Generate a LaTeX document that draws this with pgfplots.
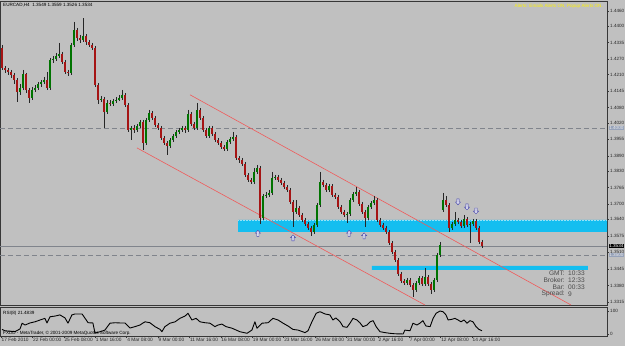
\documentclass[border=0pt]{standalone}
\usepackage{pgfplots}
\pgfplotsset{compat=1.18}
\usepackage{pgfplotstable}
\usepackage{fontspec}
\setmainfont{Liberation Sans}
\definecolor{bg}{RGB}{192,192,192}
\definecolor{bull}{RGB}{0,115,0}
\definecolor{bear}{RGB}{165,20,20}
\definecolor{zone}{RGB}{20,190,240}
\definecolor{chan}{RGB}{240,90,90}
\definecolor{frm}{RGB}{55,55,55}
\definecolor{lvl}{RGB}{128,132,140}
\definecolor{arrowc}{RGB}{70,70,170}
\definecolor{lvlbox}{RGB}{150,162,185}
\definecolor{infotext}{RGB}{75,75,75}

\pgfdeclareplotmark{uparr}{%
  \pgfpathmoveto{\pgfqpoint{0pt}{3pt}}%
  \pgfpathlineto{\pgfqpoint{2.6pt}{0.2pt}}%
  \pgfpathlineto{\pgfqpoint{1.1pt}{0.2pt}}%
  \pgfpathlineto{\pgfqpoint{1.1pt}{-3pt}}%
  \pgfpathlineto{\pgfqpoint{-1.1pt}{-3pt}}%
  \pgfpathlineto{\pgfqpoint{-1.1pt}{0.2pt}}%
  \pgfpathlineto{\pgfqpoint{-2.6pt}{0.2pt}}%
  \pgfpathclose
  \pgfusepathqfillstroke}
\pgfdeclareplotmark{dnarr}{%
  \pgfpathmoveto{\pgfqpoint{0pt}{-3pt}}%
  \pgfpathlineto{\pgfqpoint{2.6pt}{-0.2pt}}%
  \pgfpathlineto{\pgfqpoint{1.1pt}{-0.2pt}}%
  \pgfpathlineto{\pgfqpoint{1.1pt}{3pt}}%
  \pgfpathlineto{\pgfqpoint{-1.1pt}{3pt}}%
  \pgfpathlineto{\pgfqpoint{-1.1pt}{-0.2pt}}%
  \pgfpathlineto{\pgfqpoint{-2.6pt}{-0.2pt}}%
  \pgfpathclose
  \pgfusepathqfillstroke}

\newcommand{\ft}{\fontsize{4.6}{5}\selectfont}
\newcommand{\fdate}{\fontsize{4.8}{5}\selectfont}
\newcommand{\finfo}{\fontsize{6.6}{7}\selectfont}

% EURCAD H4 candles: i open high low close
\pgfplotstableread{
i o h l c
0 1.4314 1.4326 1.4228 1.4236
1 1.4236 1.4244 1.4216 1.4228
2 1.4228 1.4236 1.4208 1.4220
3 1.4220 1.4228 1.4196 1.4208
4 1.4208 1.4216 1.4173 1.4189
5 1.4189 1.4196 1.4102 1.4141
6 1.4141 1.4173 1.4130 1.4157
7 1.4157 1.4228 1.4149 1.4212
8 1.4212 1.4216 1.4137 1.4149
9 1.4149 1.4157 1.4098 1.4118
10 1.4118 1.4161 1.4110 1.4149
11 1.4149 1.4169 1.4141 1.4157
12 1.4157 1.4181 1.4149 1.4173
13 1.4173 1.4189 1.4161 1.4181
14 1.4181 1.4200 1.4173 1.4189
15 1.4189 1.4220 1.4149 1.4157
16 1.4157 1.4275 1.4149 1.4267
17 1.4267 1.4283 1.4255 1.4271
18 1.4271 1.4295 1.4263 1.4283
19 1.4283 1.4334 1.4275 1.4291
20 1.4291 1.4299 1.4251 1.4259
21 1.4259 1.4267 1.4212 1.4220
22 1.4220 1.4228 1.4204 1.4216
23 1.4216 1.4334 1.4208 1.4326
24 1.4326 1.4417 1.4318 1.4385
25 1.4385 1.4393 1.4342 1.4354
26 1.4354 1.4366 1.4334 1.4346
27 1.4346 1.4432 1.4338 1.4362
28 1.4362 1.4370 1.4326 1.4338
29 1.4338 1.4346 1.4318 1.4326
30 1.4326 1.4334 1.4307 1.4314
31 1.4314 1.4322 1.4161 1.4169
32 1.4169 1.4177 1.4094 1.4110
33 1.4110 1.4126 1.4102 1.4114
34 1.4114 1.4122 1.4000 1.4063
35 1.4063 1.4110 1.4055 1.4098
36 1.4098 1.4110 1.4086 1.4094
37 1.4094 1.4114 1.4086 1.4106
38 1.4106 1.4122 1.4098 1.4110
39 1.4110 1.4130 1.4106 1.4118
40 1.4118 1.4149 1.4110 1.4130
41 1.4130 1.4137 1.4082 1.4090
42 1.4090 1.4098 1.3984 1.3992
43 1.3992 1.4008 1.3952 1.4000
44 1.4000 1.4012 1.3980 1.3992
45 1.3992 1.4015 1.3984 1.4008
46 1.4008 1.4031 1.4000 1.4023
47 1.4023 1.4031 1.3913 1.3941
48 1.3941 1.4039 1.3933 1.4031
49 1.4031 1.4071 1.4023 1.4059
50 1.4059 1.4067 1.4031 1.4039
51 1.4039 1.4047 1.4004 1.4012
52 1.4012 1.4019 1.3992 1.4000
53 1.4000 1.4008 1.3952 1.3960
54 1.3960 1.3968 1.3933 1.3941
55 1.3941 1.3948 1.3893 1.3929
56 1.3929 1.3960 1.3921 1.3952
57 1.3952 1.3976 1.3945 1.3968
58 1.3968 1.3992 1.3960 1.3984
59 1.3984 1.4000 1.3976 1.3992
60 1.3992 1.4008 1.3984 1.4000
61 1.4000 1.4008 1.3980 1.3992
62 1.3992 1.4071 1.3984 1.4055
63 1.4055 1.4063 1.4008 1.4015
64 1.4015 1.4023 1.3992 1.4000
65 1.4000 1.4098 1.3992 1.4071
66 1.4071 1.4078 1.4031 1.4039
67 1.4039 1.4047 1.3984 1.3992
68 1.3992 1.4000 1.3960 1.3968
69 1.3968 1.4008 1.3960 1.4000
70 1.4000 1.4008 1.3968 1.3976
71 1.3976 1.3984 1.3945 1.3952
72 1.3952 1.3960 1.3933 1.3941
73 1.3941 1.3948 1.3917 1.3925
74 1.3925 1.3933 1.3909 1.3917
75 1.3917 1.3952 1.3909 1.3945
76 1.3945 1.3964 1.3937 1.3956
77 1.3956 1.3984 1.3948 1.3964
78 1.3964 1.3972 1.3874 1.3882
79 1.3882 1.3889 1.3862 1.3874
80 1.3874 1.3882 1.3850 1.3858
81 1.3858 1.3866 1.3807 1.3815
82 1.3815 1.3823 1.3787 1.3795
83 1.3795 1.3803 1.3779 1.3787
84 1.3787 1.3842 1.3779 1.3827
85 1.3827 1.3854 1.3819 1.3842
86 1.3842 1.3850 1.3622 1.3646
87 1.3646 1.3740 1.3638 1.3732
88 1.3732 1.3748 1.3724 1.3736
89 1.3736 1.3756 1.3728 1.3744
90 1.3744 1.3827 1.3736 1.3803
91 1.3803 1.3815 1.3795 1.3807
92 1.3807 1.3815 1.3787 1.3795
93 1.3795 1.3803 1.3775 1.3783
94 1.3783 1.3791 1.3760 1.3768
95 1.3768 1.3775 1.3748 1.3756
96 1.3756 1.3764 1.3701 1.3709
97 1.3709 1.3716 1.3610 1.3669
98 1.3669 1.3716 1.3661 1.3685
99 1.3685 1.3693 1.3650 1.3657
100 1.3657 1.3665 1.3630 1.3638
101 1.3638 1.3646 1.3614 1.3622
102 1.3622 1.3630 1.3598 1.3606
103 1.3606 1.3614 1.3575 1.3591
104 1.3591 1.3626 1.3583 1.3618
105 1.3618 1.3705 1.3610 1.3697
106 1.3697 1.3827 1.3689 1.3787
107 1.3787 1.3795 1.3768 1.3775
108 1.3775 1.3783 1.3748 1.3756
109 1.3756 1.3779 1.3748 1.3771
110 1.3771 1.3779 1.3728 1.3736
111 1.3736 1.3744 1.3720 1.3728
112 1.3728 1.3736 1.3681 1.3689
113 1.3689 1.3697 1.3661 1.3669
114 1.3669 1.3677 1.3650 1.3657
115 1.3657 1.3669 1.3626 1.3661
116 1.3661 1.3724 1.3653 1.3716
117 1.3716 1.3748 1.3709 1.3740
118 1.3740 1.3768 1.3732 1.3748
119 1.3748 1.3756 1.3693 1.3701
120 1.3701 1.3709 1.3661 1.3669
121 1.3669 1.3677 1.3610 1.3646
122 1.3646 1.3697 1.3638 1.3689
123 1.3689 1.3712 1.3681 1.3705
124 1.3705 1.3732 1.3697 1.3716
125 1.3716 1.3724 1.3630 1.3638
126 1.3638 1.3646 1.3610 1.3618
127 1.3618 1.3626 1.3598 1.3606
128 1.3606 1.3614 1.3583 1.3591
129 1.3591 1.3598 1.3539 1.3547
130 1.3547 1.3555 1.3504 1.3512
131 1.3512 1.3520 1.3472 1.3480
132 1.3480 1.3488 1.3417 1.3425
133 1.3425 1.3433 1.3390 1.3398
134 1.3398 1.3405 1.3382 1.3390
135 1.3390 1.3410 1.3382 1.3402
136 1.3402 1.3410 1.3374 1.3382
137 1.3382 1.3390 1.3335 1.3362
138 1.3362 1.3398 1.3354 1.3390
139 1.3390 1.3417 1.3382 1.3410
140 1.3410 1.3417 1.3378 1.3386
141 1.3386 1.3449 1.3378 1.3413
142 1.3413 1.3421 1.3378 1.3386
143 1.3386 1.3394 1.3347 1.3362
144 1.3362 1.3410 1.3354 1.3402
145 1.3402 1.3508 1.3394 1.3500
146 1.3500 1.3551 1.3492 1.3539
147 1.3677 1.3744 1.3669 1.3716
148 1.3716 1.3732 1.3689 1.3697
149 1.3697 1.3705 1.3591 1.3606
150 1.3606 1.3630 1.3598 1.3622
151 1.3622 1.3669 1.3614 1.3638
152 1.3638 1.3646 1.3622 1.3630
153 1.3630 1.3638 1.3606 1.3614
154 1.3614 1.3657 1.3606 1.3642
155 1.3642 1.3650 1.3610 1.3618
156 1.3618 1.3630 1.3547 1.3622
157 1.3622 1.3642 1.3614 1.3634
158 1.3634 1.3642 1.3598 1.3606
159 1.3606 1.3614 1.3543 1.3549
160 1.3549 1.3559 1.3526 1.3534
}\candles

\begin{document}
\begin{tikzpicture}
\useasboundingbox (0pt,0pt) rectangle (625pt,346pt);
\fill[bg] (0pt,0pt) rectangle (625pt,346pt);

% ---------- main price panel ----------
\begin{axis}[
  at={(0pt,41pt)}, anchor=south west,
  scale only axis, width=607pt, height=304pt,
  xmin=-0.667, xmax=201.667,
  ymin=1.3303, ymax=1.4499,
  clip mode=individual,
  axis line style={draw=frm, line width=0.8pt},
  xtick=\empty,
  ytick={1.3315,1.3380,1.3445,1.3510,1.3575,1.3640,1.3700,1.3765,1.3830,1.3890,1.3955,1.4020,1.4080,1.4145,1.4210,1.4270,1.4335,1.4400,1.4460},
  yticklabels={1.3315,1.3380,1.3445,1.3510,1.3575,1.3640,1.3700,1.3765,1.3830,1.3890,1.3955,1.4020,1.4080,1.4145,1.4210,1.4270,1.4335,1.4400,1.4460},
  ytick pos=right, yticklabel pos=right,
  tick align=outside, major tick length=2pt,
  tick style={draw=frm, line width=0.5pt},
  yticklabel style={font=\ft, text=black!85, inner sep=0.5pt, anchor=west, xshift=0.5pt},
]
% support / resistance zones
\addplot[fill=zone, draw=none, forget plot] coordinates {(78.67,1.3591) (201.667,1.3591) (201.667,1.3638) (78.67,1.3638) (78.67,1.3591)};
\addplot[draw=white!55!zone, line width=0.5pt, densely dotted, forget plot] coordinates {(78.67,1.3638) (201.667,1.3638)};
\addplot[fill=zone, draw=none, forget plot] coordinates {(123.33,1.3441) (195.33,1.3441) (195.33,1.3457) (123.33,1.3457) (123.33,1.3441)};
% horizontal levels
\addplot[draw=lvl, line width=0.6pt, dash pattern=on 5pt off 3pt, forget plot] coordinates {(-0.667,1.4000) (201.667,1.4000)};
\addplot[draw=lvl, line width=0.6pt, dash pattern=on 5pt off 3pt, forget plot] coordinates {(-0.667,1.3500) (201.667,1.3500)};
\addplot[draw=lvl, line width=0.6pt, forget plot] coordinates {(-0.667,1.3534) (201.667,1.3534)};
% channel
\addplot[draw=chan, line width=0.6pt, forget plot] coordinates {(62.67,1.4130) (189.67,1.3303)};
\addplot[draw=chan, line width=0.6pt, forget plot] coordinates {(45,1.3921) (141,1.3303)};
% wicks
\addplot[draw=none, mark=none, forget plot,
  error bars/.cd, y dir=minus, y explicit, error mark=none,
  error bar style={draw=black!85, line width=0.6pt, solid}]
  table[x=i, y=h, y error minus expr={\thisrow{h}-\thisrow{l}}] {\candles};
% bull bodies
\addplot[draw=none, mark=none, forget plot,
  restrict expr to domain={\thisrow{c}-\thisrow{o}}{0:1},
  error bars/.cd, y dir=minus, y explicit, error mark=none,
  error bar style={draw=bull, line width=2pt, solid}]
  table[x=i, y=c, y error minus expr={\thisrow{c}-\thisrow{o}}] {\candles};
% bear bodies
\addplot[draw=none, mark=none, forget plot,
  restrict expr to domain={\thisrow{o}-\thisrow{c}}{0.00001:1},
  error bars/.cd, y dir=minus, y explicit, error mark=none,
  error bar style={draw=bear, line width=2pt, solid}]
  table[x=i, y=o, y error minus expr={\thisrow{o}-\thisrow{c}}] {\candles};
% fractal arrows
\addplot[only marks, mark=uparr, mark options={draw=arrowc, fill=white!80!arrowc, line width=0.4pt}, forget plot]
  coordinates {(85.3,1.3585) (97,1.3567) (115.7,1.3585) (120.7,1.3575)};
\addplot[only marks, mark=dnarr, mark options={draw=arrowc, fill=white!80!arrowc, line width=0.4pt}, forget plot]
  coordinates {(152,1.3709) (155,1.3689) (158,1.3673)};
% right-hand price boxes
\node[fill=lvlbox, text=white!92!black, font=\ft, inner sep=0.5pt, anchor=west] at (axis cs:202.2,1.4000) {1.4000};
\node[fill=lvlbox, text=white!92!black, font=\ft, inner sep=0.5pt, anchor=west] at (axis cs:202.2,1.3500) {1.3500};
\node[fill=black, text=white, font=\ft, inner sep=0.5pt, anchor=west] at (axis cs:202.2,1.3534) {1.3534};
\end{axis}

% ---------- RSI panel ----------
\begin{axis}[
  at={(0pt,10pt)}, anchor=south west,
  scale only axis, width=607pt, height=29pt,
  xmin=-0.667, xmax=201.667,
  ymin=-8.7, ymax=117.4,
  axis line style={draw=frm, line width=0.8pt},
  xtick={-0.33,10.13,20.6,31.07,41.53,52,62.47,72.93,83.4,93.87,104.33,114.8,125.27,135.73,146.2,156.67},
  xticklabels={17 Feb 2010,22 Feb 00:00,25 Feb 08:00,1 Mar 16:00,4 Mar 08:00,9 Mar 00:00,11 Mar 16:00,16 Mar 08:00,19 Mar 00:00,23 Mar 16:00,26 Mar 08:00,31 Mar 00:00,2 Apr 16:00,7 Apr 00:00,12 Apr 08:00,14 Apr 16:00},
  xtick pos=bottom,
  xticklabel style={font=\fdate, text=black!85, anchor=north west, inner sep=0.5pt, yshift=0.5pt},
  ytick={0,100}, yticklabels={0,100},
  ytick pos=right, yticklabel pos=right,
  yticklabel style={font=\ft, text=black!85, inner sep=0.5pt, anchor=west, xshift=0.5pt},
  tick align=outside, major tick length=2pt,
  tick style={draw=frm, line width=0.5pt},
]
\addplot[black, line width=0.9pt, line join=round] coordinates {
(0,20) (1,14) (4.3,10) (6,22) (6.7,47) (7.7,39) (9.3,48) (11,53) (12.7,61) (14.3,68) (15,48) (16,75)
(17.7,78) (19.3,83) (21,70) (22,47) (23.3,83) (24.3,87) (26.7,87) (28.7,49) (30.3,48) (31,4) (32.7,10)
(34.3,17) (36,47) (37.7,49) (39.3,48) (41,48) (42.7,26) (44.3,32) (46,39) (47,48) (47.7,53) (49.3,49)
(51,32) (52.7,20) (53.3,10) (54.3,32) (56,47) (57.7,53) (59.3,68) (61,78) (62,90) (63.3,61) (64.7,68)
(66,53) (67.7,49) (69.3,47) (71,32) (72,39) (73.3,43) (74.7,32) (76.7,25) (79.3,10) (81.7,3) (83.3,17)
(84.3,53) (85,25) (86.7,47) (88.7,49) (90.3,68) (92,61) (93.7,47) (95.3,35) (97,20) (98.7,17) (101,6)
(102,14) (103.3,53) (104.7,90) (106,97) (106.7,93) (107.7,87) (109.3,83) (110.3,61) (111.3,70) (112.7,53)
(113.7,32) (115,29) (116,47) (117,68) (118.3,61) (119.3,49) (120.3,32) (121.7,39) (122.7,53) (123.7,58)
(124.7,32) (126,10) (127.7,6) (129.3,3) (131,1) (132.7,0.5) (133.7,0) (134.3,17) (136,14) (137,47)
(138.3,39) (139.3,47) (140.3,58) (141.3,35) (142.7,32) (143.7,68) (144.7,90) (146,100) (147,97) (148,83)
(148.7,61) (150,64) (151,68) (152,61) (153,53) (154,61) (155,47) (156,58) (157,53) (158,32) (159,20) (160,14)
};
\end{axis}

% ---------- texts ----------
\node[anchor=west, font=\ft, inner sep=0pt] at (3pt,340.5pt) {EURCAD,H4\ \ 1.3549 1.3559 1.3526 1.3534};
\node[anchor=east, font=\ft, text=yellow, inner sep=0pt] at (603pt,340pt) {Alerts: Emails Alerts ON, Popup Alerts ON.};
\node[anchor=west, font=\ft, inner sep=0pt] at (3pt,33pt) {RSI(8) 21.4839};
\node[anchor=west, font=\ft, inner sep=0pt] at (3pt,13pt) {FXDD - MetaTrader, \textcopyright{} 2001-2009 MetaQuotes Software Corp.};
\begin{scope}[font=\finfo, text=infotext, inner sep=0pt]
\node[anchor=east] at (565pt,73pt) {GMT:};
\node[anchor=east] at (565pt,66pt) {Broker:};
\node[anchor=east] at (565pt,59pt) {Bar:};
\node[anchor=east] at (565pt,52pt) {Spread:};
\node[anchor=west] at (568pt,73pt) {10:33};
\node[anchor=west] at (568pt,66pt) {12:33};
\node[anchor=west] at (568pt,59pt) {00:33};
\node[anchor=west] at (568pt,52pt) {9};
\end{scope}
\end{tikzpicture}
\end{document}
